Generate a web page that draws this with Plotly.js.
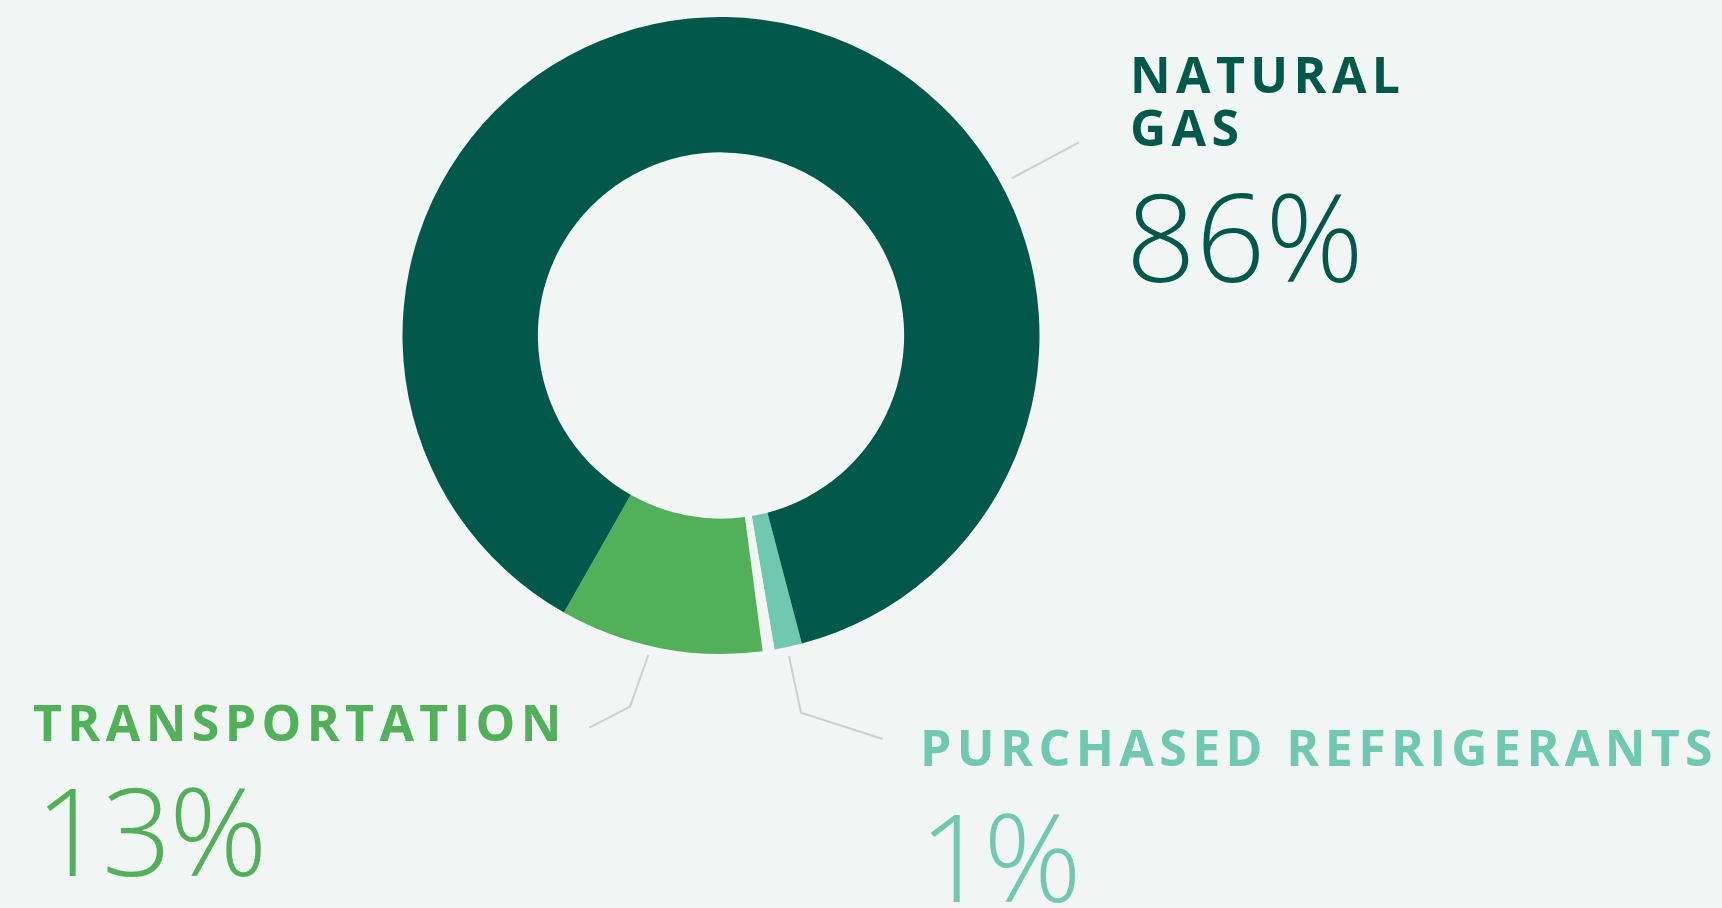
<!DOCTYPE html>
<html>
<head>
<meta charset="utf-8">
<script src="https://cdn.plot.ly/plotly-3.0.1.min.js"></script>
<style>
  html, body { margin: 0; padding: 0; background: #f1f5f3; }
  #chart { width: 1722px; height: 908px; }
</style>
</head>
<body>
<div id="chart"></div>
<script>
// ---- data ----
const categories = ['NATURAL GAS', 'TRANSPORTATION', 'PURCHASED REFRIGERANTS'];
const headingLines = [['NATURAL', 'GAS'], ['TRANSPORTATION'], ['PURCHASED REFRIGERANTS']];
const reportedPercent = [86, 13, 1];
// wedge sizes as drawn in the picture (share of the full circle, %)
const drawnShare = [87.8, 10.3, 1.4];
// thin background-coloured separator between transportation and refrigerants
const separatorShare = [0.6];
const sliceColors = ['#02584a', '#52af5a', '#71c8b0'];

// ---- layout helpers ----
const W = 1722, H = 908;
const BG = '#f1f5f3';
const px = (x) => x / W;
const py = (y) => 1 - y / H;

const cx = 721, cy = 335.5, R = 318.5;

// pie order (clockwise from rotation): refrigerants, separator, transportation, natural gas
const pieLabels = [categories[2], 'separator', categories[1], categories[0]];
const pieValues = [drawnShare[2], separatorShare[0], drawnShare[1], drawnShare[0]];
const pieColors = [sliceColors[2], BG, sliceColors[1], sliceColors[0]];

const trace = {
  type: 'pie',
  labels: pieLabels,
  values: pieValues,
  sort: false,
  direction: 'clockwise',
  rotation: 165.3,
  hole: 0.575,
  marker: { colors: pieColors, line: { width: 0 } },
  textinfo: 'none',
  hoverinfo: 'skip',
  showlegend: false,
  domain: { x: [px(cx - R), px(cx + R)], y: [py(cy + R), py(cy - R)] }
};

const headFont = (c) => ({ family: 'Open Sans, sans-serif', size: 50, color: c, weight: 700 });
const pctFont = (c) => ({ family: 'Open Sans, sans-serif', size: 122, color: c, weight: 300 });

// heading boxes: [left x, top y] in px
const headingBox = [[1128, 38.2], [31, 685.5], [918, 710.5]];
// percent boxes: [left x, centre y]
const pctPos = [[1124, 235], [33, 829], [917, 854.6]];
const pctSpacing = ['0px', '-2.7px', '-5.5px'];

const annotations = [];
headingLines.forEach((lines, i) => {
  annotations.push({
    xref: 'paper', yref: 'paper', x: px(headingBox[i][0]), y: py(headingBox[i][1]),
    xanchor: 'left', yanchor: 'top', align: 'left', showarrow: false,
    text: lines.join('<br>'), font: headFont(sliceColors[i])
  });
});
const nHeadings = annotations.length;
reportedPercent.forEach((v, i) => {
  annotations.push({
    xref: 'paper', yref: 'paper', x: px(pctPos[i][0]), y: py(pctPos[i][1]),
    xanchor: 'left', yanchor: 'middle', align: 'left', showarrow: false,
    text: v + '%', font: pctFont(sliceColors[i])
  });
});

const connectors = [
  [[1011.7, 178.3], [1079, 142.3]],
  [[648.3, 655], [630, 706.7], [589.3, 727.7]],
  [[789, 656], [801, 712.7], [882.7, 739]]
];
const shapes = connectors.map(pts => ({
  type: 'path', xref: 'paper', yref: 'paper',
  path: pts.map((p, k) => (k ? 'L' : 'M') + px(p[0]) + ',' + py(p[1])).join(' '),
  line: { color: '#cfcfcf', width: 2 }
}));

const layout = {
  width: W, height: H,
  margin: { l: 0, r: 0, t: 0, b: 0 },
  paper_bgcolor: BG, plot_bgcolor: BG,
  showlegend: false,
  annotations: annotations,
  shapes: shapes
};

Plotly.newPlot('chart', [trace], layout, { staticPlot: true, displayModeBar: false }).then(() => {
  document.querySelectorAll('g.annotation').forEach(g => {
    const idx = +g.getAttribute('data-index');
    const t = g.querySelector('text.annotation-text') || g.querySelector('text');
    if (!t) return;
    if (idx < nHeadings) {
      t.style.letterSpacing = '5.4px';
      t.querySelectorAll('tspan.line').forEach((ts, k) => {
        if (k > 0) ts.setAttribute('dy', (k * 1.066) + 'em');
      });
    } else {
      t.style.letterSpacing = pctSpacing[idx - nHeadings];
    }
  });
});
</script>
</body>
</html>
